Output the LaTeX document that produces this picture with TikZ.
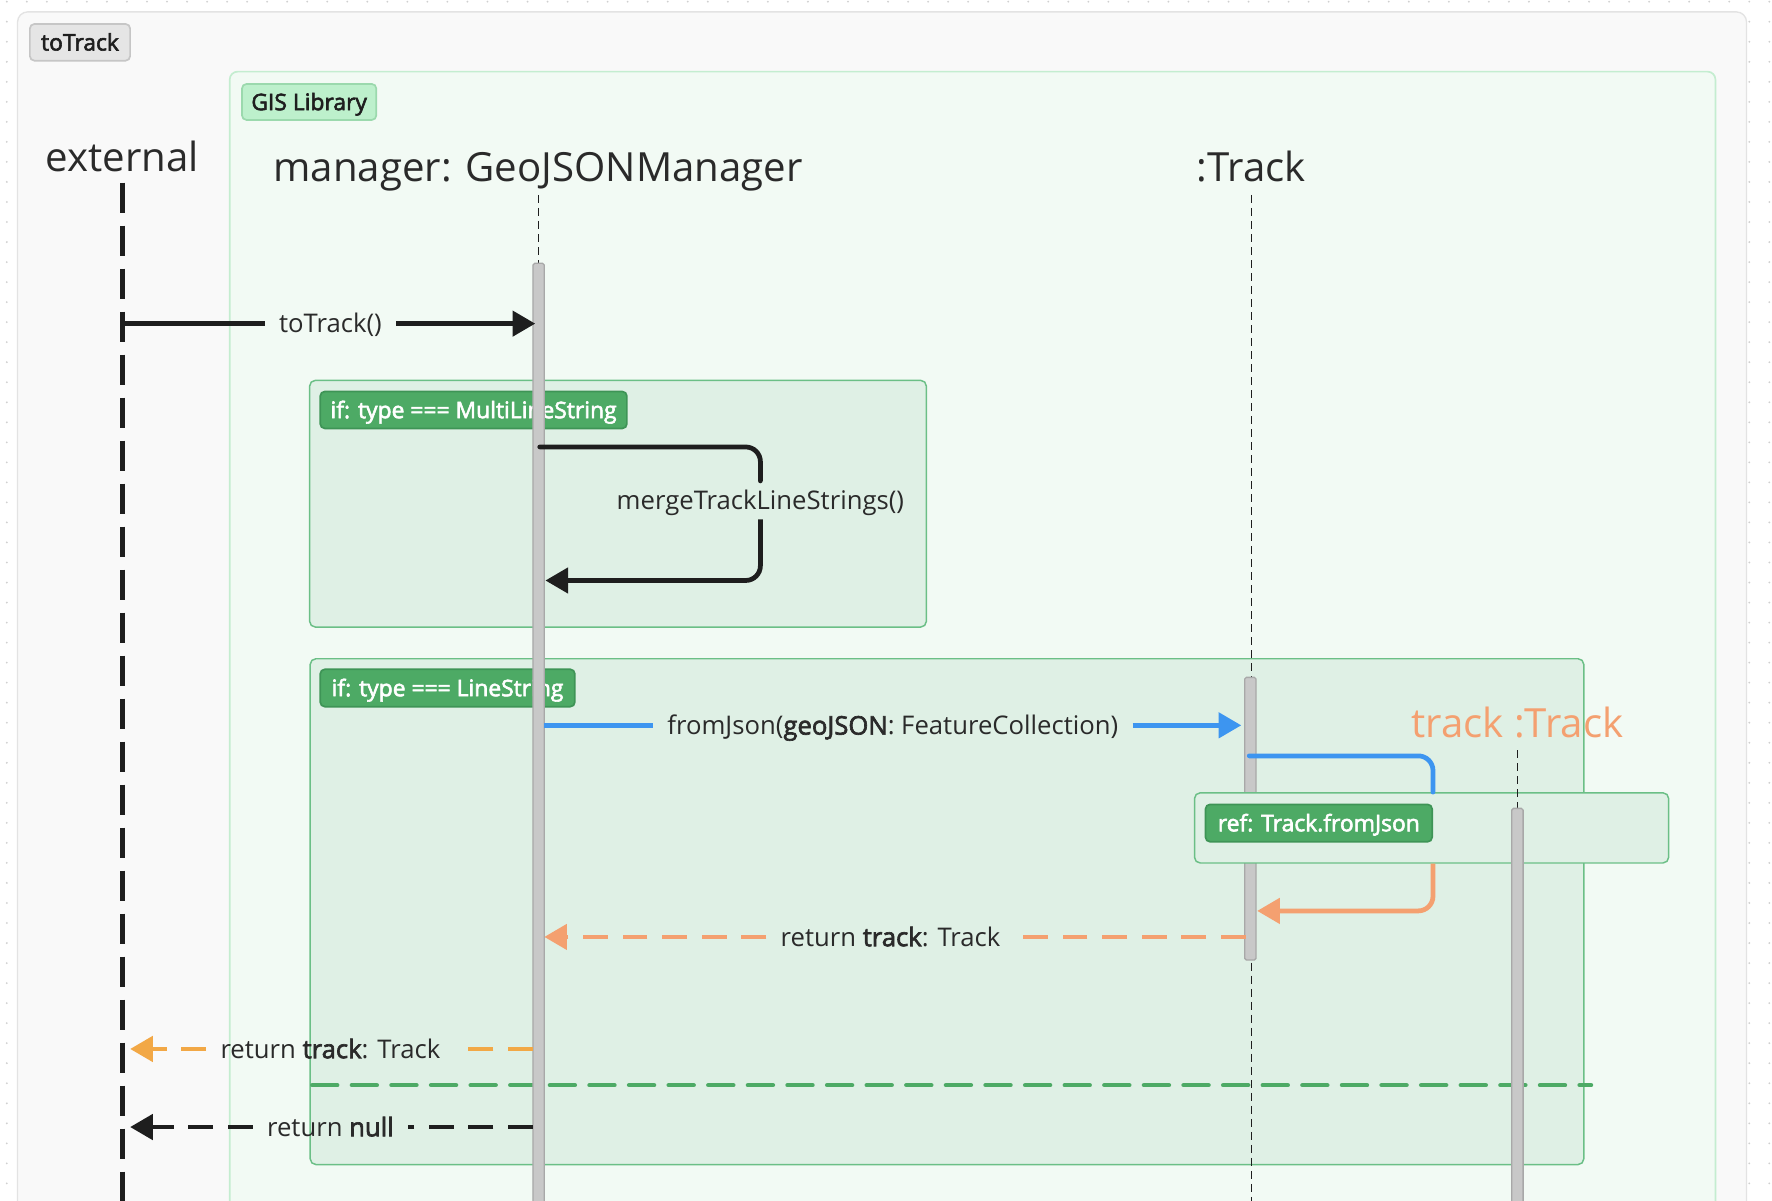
\documentclass[tikz,border=0pt]{standalone}
\usepackage{fontspec}
\setmainfont{Open Sans}
\newfontfamily\medfont{Open Sans}[FakeBold=2.5]
\newcommand\semibold[1]{{\medfont #1}}
\usetikzlibrary{arrows.meta}
\definecolor{txt}{HTML}{2A2A2A}
\definecolor{dotc}{HTML}{D0D0D0}
\definecolor{framefill}{HTML}{F9F9F9}
\definecolor{frameline}{HTML}{E3E3E3}
\definecolor{gisfill}{HTML}{F2FAF4}
\definecolor{gisline}{HTML}{C4EDD0}
\definecolor{gistagfill}{HTML}{BDF0CC}
\definecolor{gistagline}{HTML}{9BD9AD}
\definecolor{ttfill}{HTML}{E5E5E5}
\definecolor{ttline}{HTML}{C6C6C6}
\definecolor{altfill}{HTML}{DFF0E5}
\definecolor{altline}{HTML}{6BBF86}
\definecolor{tagfill}{HTML}{4DAA65}
\definecolor{tagline}{HTML}{3E9456}
\definecolor{barfill}{HTML}{C8C8C8}
\definecolor{barline}{HTML}{A8A8A8}
\definecolor{msgk}{HTML}{1E1E1E}
\definecolor{msgblue}{HTML}{3D95F0}
\definecolor{salmon}{HTML}{F4A070}
\definecolor{amber}{HTML}{F2A846}
\definecolor{sepgreen}{HTML}{4DAA65}
\tikzset{
  head/.style={font=\fontsize{35.5}{40}\selectfont, text=txt, inner sep=0, anchor=base},
  lbl/.style={font=\fontsize{22.7}{26}\selectfont, text=txt, inner xsep=12.5, inner ysep=8.6, text height=16.4, text depth=0},
  tagbase/.style={rounded corners=4, line width=1.5, inner sep=0, text height=14.5, text depth=0, font=\medfont\fontsize{20.2}{22}\selectfont},
  tagg/.style={tagbase, draw=tagline, fill=tagfill, text=white},
  altframe/.style={draw=altline, fill=altfill, rounded corners=5, line width=1.3},
  actbar/.style={draw=barline, fill=barfill, line width=1.2, rounded corners=1.5},
  thinlife/.style={draw=msgk, line width=1.3, dash pattern=on 7 off 4.5},
  msg/.style={line width=4.2, draw=msgk},
  tip/.style={-{Triangle[length=20pt,width=22pt]}},
  ret/.style={line width=4.2, dash pattern=on 22 off 13},
}
\begin{document}
\begin{tikzpicture}[x=1pt,y=-1pt]
\useasboundingbox (0,0) rectangle (1566,1060.5);
\clip (0,0) rectangle (1566,1060.5);
\fill[white] (0,0) rectangle (1566,1060.5);
% dotted canvas
\foreach \i in {0,...,88} {
  \foreach \j in {0,...,60} {
    \fill[dotc] (6+\i*17.7, 1.5+\j*17.7) circle (0.9);
  }
}
% outer frame
\path[draw=frameline, fill=framefill, line width=1.2, rounded corners=9] (15.5,10.5) rectangle (1543.5,1095);
\node[tagbase, draw=ttline, fill=ttfill, text=msgk, minimum width=88.6, minimum height=32.4] (tttag) at (70.7,37.4) {toTrack};
% GIS library container
\path[draw=gisline, fill=gisfill, line width=1.5, rounded corners=7] (203,63.3) rectangle (1516,1095);
\node[tagbase, draw=gistagline, fill=gistagfill, text=msgk, minimum width=118.7, minimum height=31.8] (gistag) at (273.2,90.1) {GIS Library};
% heads
\node[head] (ext) at (108,151.7) {external};
\node[head] (mgr) at (475.5,160.5) {manager: GeoJSONManager};
\node[head] (trk) at (1106,160.5) {:Track};
% alt frames
\node[altframe, minimum width=545, minimum height=218, anchor=north west] (altmulti) at (273,335.5) {};
\node[tagg, minimum width=271, minimum height=32.6] (tagmulti) at (418.5,362.3) {if: type === MultiLineString};
\node[altframe, minimum width=1125.5, minimum height=447, anchor=north west] (altline) at (273.5,581.5) {};
\node[tagg, minimum width=225, minimum height=33] (tagline) at (395.5,608) {if: type === LineString};
\node[head, text=salmon] (trk2) at (1341,651.5) {track :Track};
% separator
\coordinate (sepa) at (276,959);
\coordinate (sepb) at (1406,959);
\draw[sepgreen, line width=4, line cap=round, dash pattern=on 22 off 13] (sepa) -- (sepb);
% lifelines
\coordinate (extTop) at (108,161.5);
\coordinate (extBot) at (108,1075);
\draw[msgk, line width=4.2, dash pattern=on 27 off 11] (extTop) -- (extBot);
\coordinate (mgrTop) at (476,172.3);
\coordinate (mgrBar) at (476,232.7);
\draw[thinlife] (mgrTop) -- (mgrBar);
\path[actbar] (471,232.7) rectangle (481,1080);
\coordinate (trkTop) at (1106,172.3);
\coordinate (trkBot) at (1106,1075);
\draw[thinlife] (trkTop) -- (trkBot);
\path[actbar] (1100,598.6) rectangle (1110,848.4);
% ref box
\node[altframe, minimum width=419, minimum height=62, anchor=north west] (refbox) at (1055,700) {};
\node[tagg, minimum width=200.3, minimum height=33] (tagref) at (1165.5,727.4) {ref: Track.fromJson};
% track :Track lifeline
\coordinate (trk2Top) at (1341,663);
\coordinate (trk2Bar) at (1341,714.4);
\draw[thinlife] (trk2Top) -- (trk2Bar);
\path[actbar] (1336,714.4) rectangle (1346,1080);
% message 1: toTrack()
\node[lbl] (l1) at (292,286) {toTrack()};
\coordinate (m1a) at (108,286);
\coordinate (m1b) at (473,286);
\draw[msg] (m1a) -- (l1.west);
\draw[msg, tip] (l1.east) -- (m1b);
% message 2: self call
\node[lbl, inner xsep=0] (l2) at (672,442) {mergeTrackLineStrings()};
\coordinate (m2a) at (477,395);
\coordinate (m2b) at (482,513);
\draw[msg, line cap=round, rounded corners=13] (m2a) -| (l2.north);
\draw[msg, tip, rounded corners=13] (l2.south) |- (m2b);
% message 3: fromJson
\node[lbl] (l3) at (789,641) {fromJson(\semibold{geoJSON}: FeatureCollection)};
\coordinate (m3a) at (481,641);
\coordinate (m3b) at (1097,641);
\draw[msg, draw=msgblue] (m3a) -- (l3.west);
\draw[msg, draw=msgblue, tip] (l3.east) -- (m3b);
% into ref
\coordinate (m4a) at (1104,668);
\draw[msg, draw=msgblue, line cap=round, rounded corners=13] (m4a) -| (tagref.east |- refbox.north);
\coordinate (m4b) at (1111,805);
\draw[msg, draw=salmon, tip, rounded corners=13] (tagref.east |- refbox.south) |- (m4b);
% message 5: return track (salmon)
\node[lbl] (l4) at (787,828) {return \semibold{track}: Track};
\coordinate (m5a) at (1101,828);
\coordinate (m5b) at (481,828);
\draw[ret, draw=salmon] (m5a) -- (l4.east);
\draw[ret, draw=salmon, tip] (l4.west) -- (m5b);
% message 6: return track (amber)
\node[lbl] (l5) at (292,927) {return \semibold{track}: Track};
\coordinate (m6a) at (471,927);
\coordinate (m6b) at (115,927);
\draw[ret, draw=amber] (m6a) -- (l5.east);
\draw[ret, draw=amber, tip] (l5.west) -- (m6b);
% message 7: return null
\node[lbl] (l6) at (292,996) {return \semibold{null}};
\coordinate (m7a) at (471,996);
\coordinate (m7b) at (115,996);
\draw[ret, draw=msgk] (m7a) -- (l6.east);
\draw[ret, draw=msgk, tip] (l6.west) -- (m7b);
\end{tikzpicture}
\end{document}
